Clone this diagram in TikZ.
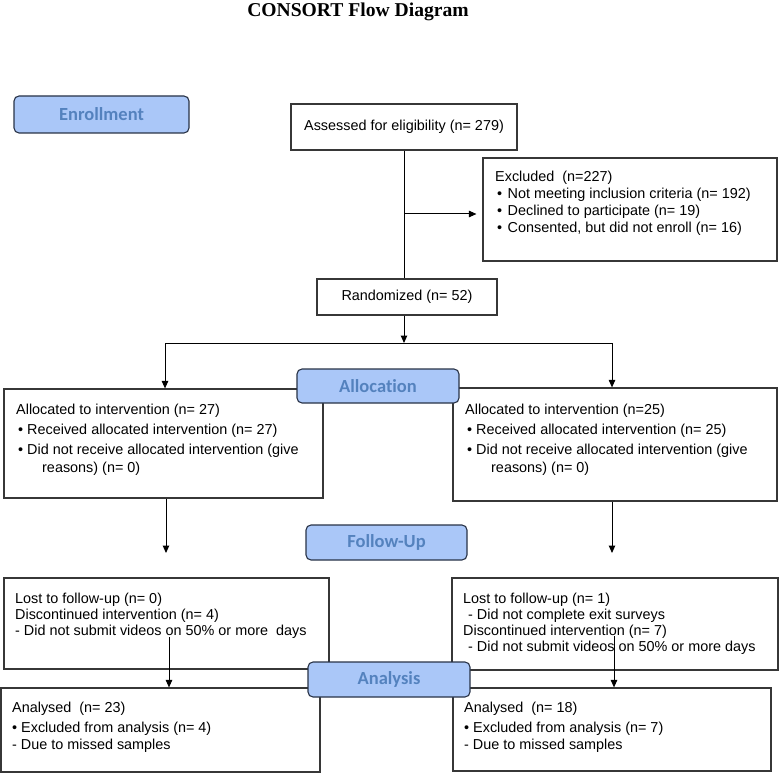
\documentclass[tikz,border=0pt]{standalone}
\usepackage{fontspec}
\setmainfont{Liberation Sans}
\newfontfamily\titlefont{Liberation Serif}
\newfontfamily\labelfont[Ligatures=NoCommon]{Carlito}
\usetikzlibrary{arrows.meta}
\definecolor{stagefill}{RGB}{170,199,248}
\definecolor{stagetext}{RGB}{84,130,190}
\definecolor{stageborder}{RGB}{40,50,70}
\definecolor{boxgray}{RGB}{55,55,55}
\begin{document}
\begin{tikzpicture}[x=1pt,y=-1pt,
  box/.style={draw=boxgray, line width=1.2pt, rectangle, inner sep=0pt, font=\fontsize{14.4}{16}\selectfont},
  stage/.style={draw=stageborder, fill=stagefill, rounded corners=5pt, line width=1.1pt, text=stagetext, inner sep=0pt,
    font=\labelfont\bfseries\fontsize{18.5}{20}\selectfont},
  txt/.style={anchor=base west, inner sep=0pt, font=\fontsize{14.4}{16}\selectfont},
  arr/.style={-{Triangle[length=7.5pt,width=6.5pt]}, line width=1pt, draw=black},
  conn/.style={line width=1pt, draw=black}]
\useasboundingbox (0,0) rectangle (780,773);

% title
\node[inner sep=0pt] (title) at (358,12) {\titlefont\bfseries\fontsize{19.6}{20}\selectfont CONSORT Flow Diagram};

% boxes
\node[box, minimum width=226pt, minimum height=46pt] (assess) at (404,127) {Assessed for eligibility (n= 279)};
\node[box, minimum width=294pt, minimum height=103pt] (excl) at (630,209.5) {};
\node[box, minimum width=180pt, minimum height=36pt] (rand) at (407,297) {Randomized (n= 52)};
\node[box, minimum width=319pt, minimum height=109pt] (allocL) at (163.5,443.5) {};
\node[box, minimum width=324pt, minimum height=113pt] (allocR) at (615,444.5) {};
\node[box, minimum width=325pt, minimum height=91pt] (follL) at (166.5,623.5) {};
\node[box, minimum width=326pt, minimum height=92pt] (follR) at (615,624) {};
\node[box, minimum width=319pt, minimum height=84pt] (anaL) at (160.5,730) {};
\node[box, minimum width=318pt, minimum height=83pt] (anaR) at (612,729.5) {};

% texts
\node[txt] (ex1) at (495,182) {Excluded\ \ (n=227)};
\node[txt] (ex2) at (497,199) {•\hspace{5.5pt}Not meeting inclusion criteria (n= 192)};
\node[txt] (ex3) at (497,216) {•\hspace{5.5pt}Declined to participate (n= 19)};
\node[txt] (ex4) at (497,233) {•\hspace{5.5pt}Consented, but did not enroll (n= 16)};

\node[txt] (al1) at (16,414) {Allocated to intervention (n= 27)};
\node[txt] (al2) at (18,434) {• Received allocated intervention (n= 27)};
\node[txt] (al3) at (18,454) {• Did not receive allocated intervention (give};
\node[txt] (al4) at (42,472) {reasons) (n= 0)};

\node[txt] (ar1) at (465,414) {Allocated to intervention (n=25)};
\node[txt] (ar2) at (467,434) {• Received allocated intervention (n= 25)};
\node[txt] (ar3) at (467,454) {• Did not receive allocated intervention (give};
\node[txt] (ar4) at (491,472) {reasons) (n= 0)};

\node[txt] (fl1) at (15,603) {Lost to follow-up (n= 0)};
\node[txt] (fl2) at (15,619) {Discontinued intervention (n= 4)};
\node[txt] (fl3) at (15,635) {- Did not submit videos on 50\% or more\ \ days};

\node[txt] (fr1) at (463,603) {Lost to follow-up (n= 1)};
\node[txt] (fr2) at (468,619) {- Did not complete exit surveys};
\node[txt] (fr3) at (463,635) {Discontinued intervention (n= 7)};
\node[txt] (fr4) at (468,651) {- Did not submit videos on 50\% or more days};

\node[txt] (nl1) at (12,712) {Analysed\ \ (n= 23)};
\node[txt] (nl2) at (12,732) {• Excluded from analysis (n= 4)};
\node[txt] (nl3) at (12,749) {- Due to missed samples};

\node[txt] (nr1) at (464,712) {Analysed\ \ (n= 18)};
\node[txt] (nr2) at (464,732) {• Excluded from analysis (n= 7)};
\node[txt] (nr3) at (464,749) {- Due to missed samples};

% connectors
\coordinate (exbr) at (404,214);
\coordinate (split) at (404,343);
\coordinate (lsplit) at (165,343);
\coordinate (rsplit) at (612,343);
\coordinate (lfu) at (166,553);
\coordinate (rfu) at (612,553);
\coordinate (lana) at (169,637);
\coordinate (rana) at (614,636);

\draw[conn] (assess.south) -- (assess.south |- rand.north);
\draw[arr, shorten >=6pt] (exbr) -- (excl.west |- exbr);
\draw[arr] (split |- rand.south) -- (split);
\draw[conn] (lsplit) -- (rsplit);
\draw[arr] (lsplit) -- (lsplit |- allocL.north);
\draw[arr] (rsplit) -- (rsplit |- allocR.north);
\draw[arr] (lfu |- allocL.south) -- (lfu);
\draw[arr] (rfu |- allocR.south) -- (rfu);
\draw[arr] (lana) -- (lana |- anaL.north);
\draw[arr] (rana) -- (rana |- anaR.north);

% stage labels
\node[stage, minimum width=175pt, minimum height=37pt] (enroll) at (101.5,114.5) {Enrollment};
\node[stage, minimum width=162pt, minimum height=34pt] (alloc) at (378,386) {Allocation};
\node[stage, minimum width=161pt, minimum height=35pt] (follow) at (386.5,542.5) {Follow-Up};
\node[stage, minimum width=162pt, minimum height=35pt] (analysis) at (389,679.5) {Analysis};
\end{tikzpicture}
\end{document}
